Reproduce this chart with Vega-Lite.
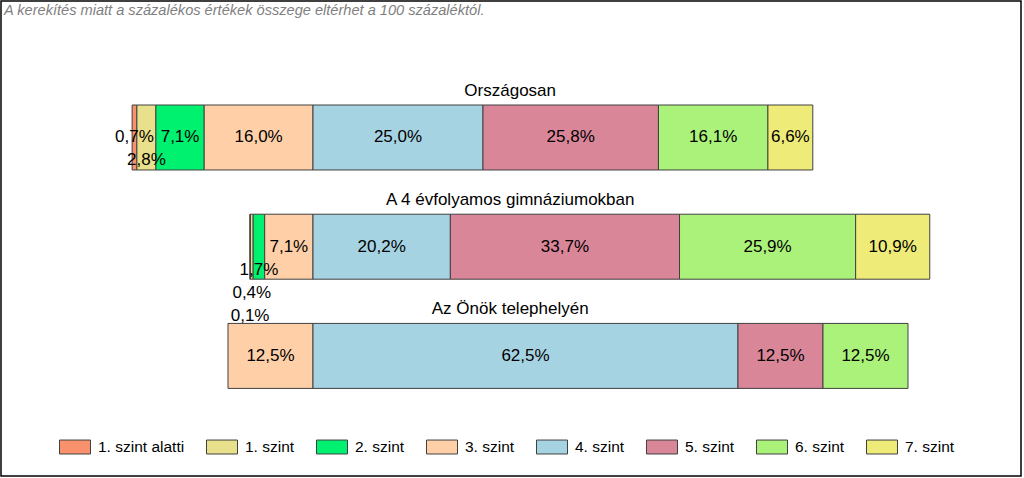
{
  "$schema": "https://vega.github.io/schema/vega-lite/v6.json",
  "width": 1020,
  "height": 475,
  "autosize": {"type": "none"},
  "padding": {"left": 1, "top": 1, "right": 3, "bottom": 2},
  "background": "white",
  "config": {"view": {"stroke": "#000", "strokeWidth": 1.5}, "font": "Liberation Sans"},
  "title": {
    "text": "A kerekítés miatt a  százalékos értékek összege eltérhet a 100 százaléktól.",
    "anchor": "start", "frame": "group", "orient": "top", "offset": -17, "dx": 3,
    "fontSize": 14.6, "fontStyle": "italic", "fontWeight": "normal", "color": "#7f7f7f", "font": "Liberation Sans"
  },
  "data": {"values": [
    {"group": "Országosan", "level": "1. szint alatti", "value": 0.7},
    {"group": "Országosan", "level": "1. szint", "value": 2.8},
    {"group": "Országosan", "level": "2. szint", "value": 7.1},
    {"group": "Országosan", "level": "3. szint", "value": 16.0},
    {"group": "Országosan", "level": "4. szint", "value": 25.0},
    {"group": "Országosan", "level": "5. szint", "value": 25.8},
    {"group": "Országosan", "level": "6. szint", "value": 16.1},
    {"group": "Országosan", "level": "7. szint", "value": 6.6},
    {"group": "A 4 évfolyamos gimnáziumokban", "level": "1. szint alatti", "value": 0.1},
    {"group": "A 4 évfolyamos gimnáziumokban", "level": "1. szint", "value": 0.4},
    {"group": "A 4 évfolyamos gimnáziumokban", "level": "2. szint", "value": 1.7},
    {"group": "A 4 évfolyamos gimnáziumokban", "level": "3. szint", "value": 7.1},
    {"group": "A 4 évfolyamos gimnáziumokban", "level": "4. szint", "value": 20.2},
    {"group": "A 4 évfolyamos gimnáziumokban", "level": "5. szint", "value": 33.7},
    {"group": "A 4 évfolyamos gimnáziumokban", "level": "6. szint", "value": 25.9},
    {"group": "A 4 évfolyamos gimnáziumokban", "level": "7. szint", "value": 10.9},
    {"group": "Az Önök telephelyén", "level": "3. szint", "value": 12.5},
    {"group": "Az Önök telephelyén", "level": "4. szint", "value": 62.5},
    {"group": "Az Önök telephelyén", "level": "5. szint", "value": 12.5},
    {"group": "Az Önök telephelyén", "level": "6. szint", "value": 12.5}
  ]},
  "transform": [
    {"calculate": "indexof(['1. szint alatti','1. szint','2. szint','3. szint','4. szint','5. szint','6. szint','7. szint'], datum.level)", "as": "ord"},
    {"calculate": "datum.ord <= 3 ? datum.value : 0", "as": "left"},
    {"joinaggregate": [{"op": "sum", "field": "left", "as": "L"}], "groupby": ["group"]},
    {"stack": "value", "groupby": ["group"], "sort": [{"field": "ord", "order": "ascending"}], "as": ["v0", "v1"]},
    {"calculate": "datum.v0 - datum.L", "as": "x0"},
    {"calculate": "datum.v1 - datum.L", "as": "x1"},
    {"calculate": "(datum.x0 + datum.x1) / 2", "as": "mid"},
    {"calculate": "replace(format(datum.value, '.1f'), '.', ',') + '%'", "as": "label"},
    {"calculate": "(datum.group == 'Országosan' && datum.level == '1. szint') || (datum.group == 'A 4 évfolyamos gimnáziumokban' && datum.level == '2. szint') ? 1 : (datum.group == 'A 4 évfolyamos gimnáziumokban' && datum.level == '1. szint') ? 2 : (datum.group == 'A 4 évfolyamos gimnáziumokban' && datum.level == '1. szint alatti') ? 3 : 0", "as": "shift"}
  ],
  "layer": [
    {
      "mark": {"type": "bar", "stroke": "#404040", "strokeWidth": 1},
      "encoding": {
        "x": {"field": "x0", "type": "quantitative", "axis": null,
              "scale": {"domain": [-45.882, 104.118], "nice": false, "zero": false}},
        "x2": {"field": "x1"},
        "y": {"field": "group", "type": "nominal", "axis": null,
              "scale": {"domain": ["Országosan", "A 4 évfolyamos gimnáziumokban", "Az Önök telephelyén"],
                        "range": [104, 387.4], "paddingInner": 0.405, "paddingOuter": 0}},
        "color": {"field": "level", "type": "nominal",
          "scale": {"domain": ["1. szint alatti", "1. szint", "2. szint", "3. szint", "4. szint", "5. szint", "6. szint", "7. szint"],
                    "range": ["#F9926C", "#E8E08A", "#00F070", "#FFD0A8", "#A6D3E2", "#D98699", "#ABF27B", "#EEEB78"]},
          "legend": {"orient": "none", "legendX": 58, "legendY": 430, "direction": "horizontal", "columns": 8,
                     "title": null, "symbolType": "M-1,-0.45H1V0.45H-1Z", "symbolSize": 961,
                     "symbolStrokeColor": "#404040", "symbolStrokeWidth": 1, "symbolOpacity": 1,
                     "labelFont": "Liberation Sans", "labelFontSize": 15.5, "labelColor": "#000",
                     "labelOffset": 7, "columnPadding": 19, "padding": 0, "labelLimit": 300}
        }
      }
    },
    {
      "transform": [{"filter": "datum.shift == 0"}],
      "mark": {"type": "text", "fontSize": 17, "color": "#000", "font": "Liberation Sans", "baseline": "middle"},
      "encoding": {
        "x": {"field": "mid", "type": "quantitative"},
        "y": {"field": "group", "type": "nominal"},
        "text": {"field": "label"}
      }
    },
    {
      "transform": [{"filter": "datum.shift == 1"}],
      "mark": {"type": "text", "fontSize": 17, "color": "#000", "font": "Liberation Sans", "baseline": "middle", "dy": 23},
      "encoding": {
        "x": {"field": "mid", "type": "quantitative"},
        "y": {"field": "group", "type": "nominal"},
        "text": {"field": "label"}
      }
    },
    {
      "transform": [{"filter": "datum.shift == 2"}],
      "mark": {"type": "text", "fontSize": 17, "color": "#000", "font": "Liberation Sans", "baseline": "middle", "dy": 46},
      "encoding": {
        "x": {"field": "mid", "type": "quantitative"},
        "y": {"field": "group", "type": "nominal"},
        "text": {"field": "label"}
      }
    },
    {
      "transform": [{"filter": "datum.shift == 3"}],
      "mark": {"type": "text", "fontSize": 17, "color": "#000", "font": "Liberation Sans", "baseline": "middle", "dy": 69},
      "encoding": {
        "x": {"field": "mid", "type": "quantitative"},
        "y": {"field": "group", "type": "nominal"},
        "text": {"field": "label"}
      }
    },
    {
      "transform": [{"aggregate": [{"op": "count", "as": "n"}], "groupby": ["group"]}],
      "mark": {"type": "text", "fontSize": 17, "color": "#000", "font": "Liberation Sans", "baseline": "middle", "dy": -14.5},
      "encoding": {
        "x": {"datum": 29},
        "y": {"field": "group", "type": "nominal", "bandPosition": 0},
        "text": {"field": "group"}
      }
    }
  ]
}
